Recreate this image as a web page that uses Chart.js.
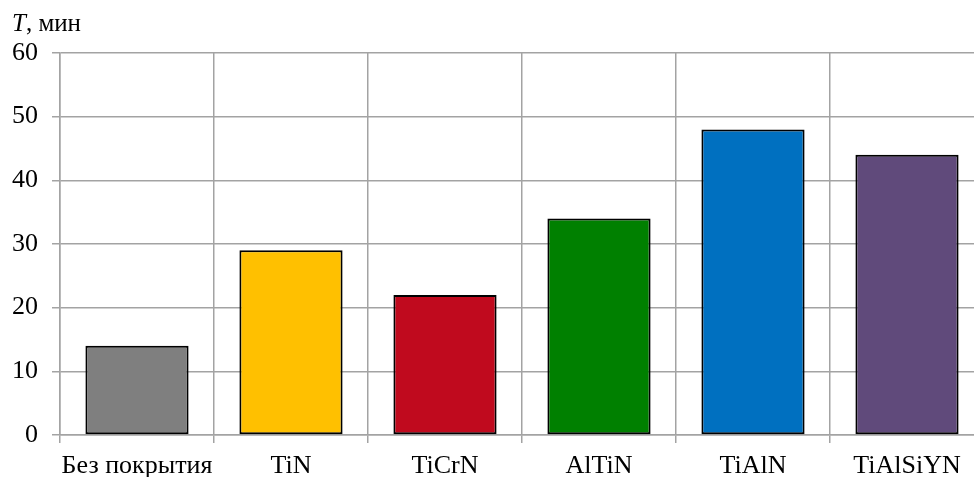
<!DOCTYPE html>
<html><head><meta charset="utf-8">
<script src="https://cdn.jsdelivr.net/npm/chart.js@4.4.1/dist/chart.umd.min.js"></script>
<style>
html,body{margin:0;padding:0;background:#fff;overflow:hidden;width:974px;height:477px;}
#wrap{position:absolute;left:0;top:0;width:1000px;height:477px;}
#ttl{position:absolute;left:12px;top:8px;font-family:"Liberation Serif","Times New Roman",serif;font-size:25px;color:#000;line-height:30px;}
</style></head>
<body>
<div id="wrap"><canvas id="c" width="1000" height="477"></canvas></div>
<div id="ttl"><i>T</i>, мин</div>
<script>
const categories = ["Без покрытия","TiN","TiCrN","AlTiN","TiAlN","TiAlSiYN"];
const values = [14, 29, 22, 34, 48, 44];
const barColors = ["#7f7f7f","#ffc000","#c00a1e","#008000","#0070c0","#604a7b"];
const yTicks = [0,10,20,30,40,50,60];
const font = {family:"'Liberation Serif','Times New Roman',serif", size:26};
const gridColor = "#a3a3a3";
new Chart(document.getElementById('c'), {
  type:'bar',
  data:{labels:categories, datasets:[{data:values, backgroundColor:barColors, borderColor:"#000", borderWidth:2, borderSkipped:false, barPercentage:1, categoryPercentage:0.67}]},
  options:{
    responsive:false, animation:false, devicePixelRatio:1,
    layout:{padding:{left:0,right:16,top:53,bottom:0}},
    plugins:{legend:{display:false},tooltip:{enabled:false}},
    scales:{
      x:{grid:{color:gridColor,lineWidth:1.5,tickLength:8,offset:true},border:{color:gridColor,width:1.5},
         ticks:{color:"#000",font:font,padding:8,maxRotation:0,autoSkip:false},
         afterFit(s){s.height=42;}},
      y:{min:0,max:60,grid:{color:gridColor,lineWidth:1.5,tickLength:8},border:{color:gridColor,width:1.5},
         ticks:{color:"#000",font:font,padding:14,stepSize:10,callback:(v)=>yTicks.includes(v)?String(v):''},
         afterFit(s){s.width=60;}}
    }
  }
});
</script>
</body></html>
